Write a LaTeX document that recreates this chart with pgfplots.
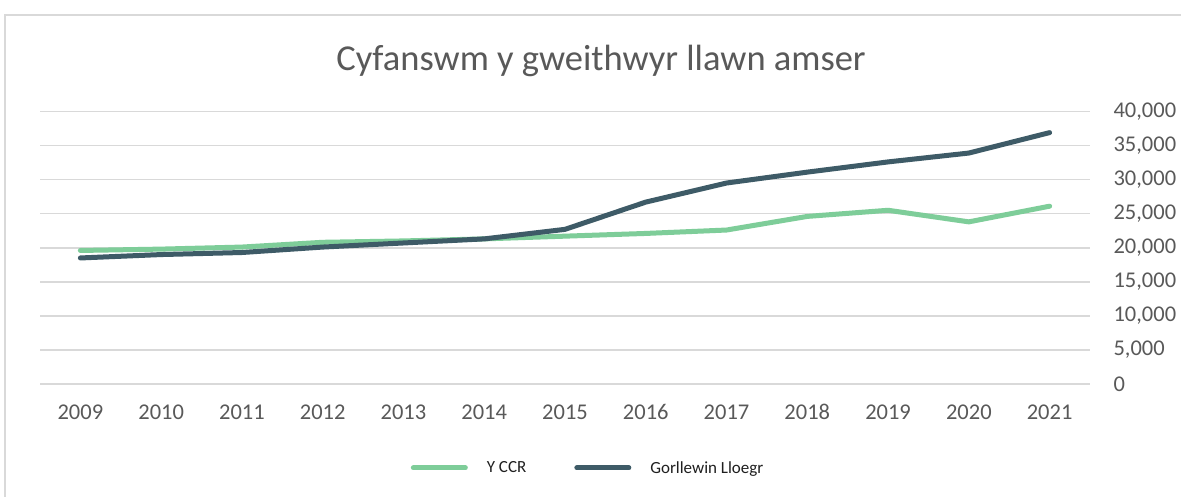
\documentclass[border=0pt]{standalone}
\usepackage{pgfplots}
\pgfplotsset{compat=1.18}
\usepackage{fontspec}
\setmainfont{Carlito}
\definecolor{ccr}{HTML}{7ECD99}
\definecolor{gl}{HTML}{3E5B67}
\definecolor{txt}{HTML}{595959}
\definecolor{grd}{HTML}{D9D9D9}
\begin{document}
\begin{tikzpicture}[x=1pt,y=1pt]
\useasboundingbox (0,0) rectangle (1181,497);
\fill[white] (0,0) rectangle (1181,497);
\draw[grd, line width=1.2pt] (5,0) -- (5,482) -- (1181,482);
\node[txt, font=\fontsize{36.5}{44}\selectfont] at (601,436) {Cyfanswm y gweithwyr llawn amser};
\begin{axis}[
  at={(40pt,113pt)}, anchor=south west,
  scale only axis, width=1050pt, height=272.5pt,
  xmin=2008.5, xmax=2021.5, ymin=0, ymax=40000,
  xtick={2009,2010,2011,2012,2013,2014,2015,2016,2017,2018,2019,2020,2021},
  ytick={0,5000,10000,15000,20000,25000,30000,35000,40000},
  scaled y ticks=false,
  yticklabel pos=right,
  axis line style={draw=none},
  major tick style={draw=none},
  ymajorgrids, grid style={grd, line width=1.6pt},
  tick label style={txt, font=\fontsize{22.5}{26}\selectfont},
  xticklabel style={/pgf/number format/1000 sep={}, /pgf/number format/assume math mode=true, anchor=base, yshift=-36pt},
  yticklabel style={/pgf/number format/1000 sep={,}, /pgf/number format/assume math mode=true, xshift=20pt},
  legend columns=2,
  legend style={draw=none, fill=none, at={(0.522,-0.308)}, anchor=center,
    font=\fontsize{17}{20}\selectfont, text=black!88,
    /tikz/every odd column/.append style={column sep=17pt},
    /tikz/every even column/.append style={column sep=46pt}},
  legend image code/.code={\draw[#1, line width=5pt, line cap=round] (0pt,0pt) -- (52pt,0pt);},
  every axis plot/.append style={line width=5pt, line cap=round, line join=round},
]
\addplot[ccr] coordinates {(2009,19600) (2010,19800) (2011,20100) (2012,20800) (2013,21000) (2014,21300) (2015,21700) (2016,22100) (2017,22600) (2018,24600) (2019,25500) (2020,23800) (2021,26100)};
\addlegendentry{Y CCR}
\addplot[gl] coordinates {(2009,18500) (2010,19000) (2011,19300) (2012,20100) (2013,20700) (2014,21300) (2015,22700) (2016,26700) (2017,29500) (2018,31100) (2019,32600) (2020,33900) (2021,36900)};
\addlegendentry{Gorllewin Lloegr}
\end{axis}
\end{tikzpicture}
\end{document}
